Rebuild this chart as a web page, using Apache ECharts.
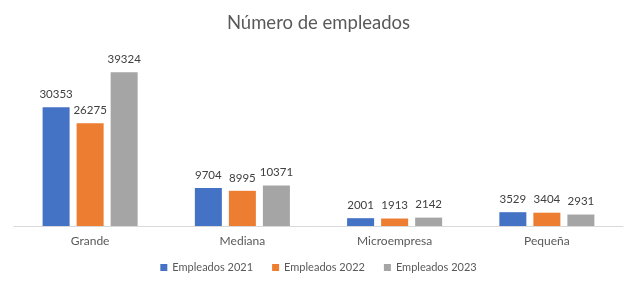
<!DOCTYPE html>
<html><head><meta charset="utf-8">
<script src="https://cdn.jsdelivr.net/npm/echarts@6/dist/echarts.min.js"></script>
<style>html,body{margin:0;padding:0;background:#fff}#c{width:637px;height:288px}</style>
</head><body><div id="c"></div>
<script>
const categories = ['Grande', 'Mediana', 'Microempresa', 'Pequeña'];
const emp2021 = [30353, 9704, 2001, 3529];
const emp2022 = [26275, 8995, 1913, 3404];
const emp2023 = [39324, 10371, 2142, 2931];
const seriesNames = ['Empleados 2021', 'Empleados 2022', 'Empleados 2023'];
const colors = ['#4472C4', '#ED7D31', '#A5A5A5'];
const font = 'Lato, "Open Sans", sans-serif';
const chart = echarts.init(document.getElementById('c'), null, {renderer: 'canvas'});
const mk = (name, data, color) => ({
  name, type: 'bar', data, barWidth: 27, barGap: '26%',
  itemStyle: {color},
  label: {show: true, position: 'top', distance: 7, color: '#404040', fontSize: 11.5, fontFamily: font}
});
chart.setOption({
  animation: false,
  title: {text: 'Número de empleados', left: 'center', top: 9,
    textStyle: {color: '#595959', fontSize: 18.5, fontWeight: 'normal', fontFamily: font}},
  legend: {bottom: 10, left: 'center', itemWidth: 7, itemHeight: 7, itemGap: 19, icon: 'rect',
    textStyle: {color: '#595959', fontSize: 11, fontFamily: font}},
  grid: {left: 14, right: 14, top: 50, bottom: 62, containLabel: false},
  xAxis: {type: 'category', data: categories,
    axisLine: {lineStyle: {color: '#D9D9D9'}}, axisTick: {show: false},
    axisLabel: {color: '#595959', fontSize: 12, fontFamily: font, margin: 9}},
  yAxis: {type: 'value', min: 0, max: 45000, show: false, splitLine: {show: false}},
  series: [mk(seriesNames[0], emp2021, colors[0]), mk(seriesNames[1], emp2022, colors[1]), mk(seriesNames[2], emp2023, colors[2])]
});
</script></body></html>
